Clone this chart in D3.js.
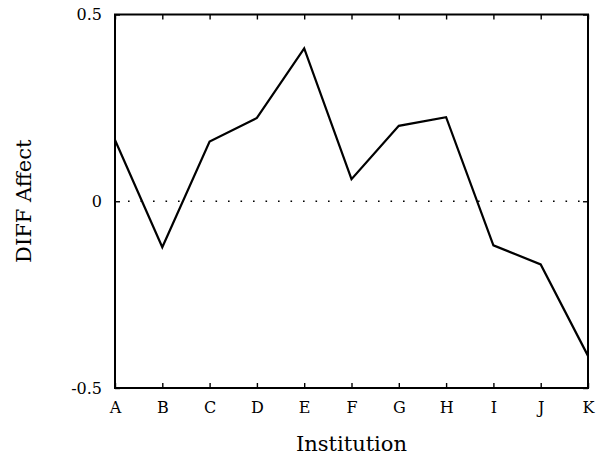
<!DOCTYPE html>
<html>
<head>
<meta charset="utf-8">
<script src="https://cdn.jsdelivr.net/npm/d3@7"></script>
<style>
  body { margin: 0; background: #fff; }
</style>
</head>
<body>
<div id="chart"></div>
<script>
const institutions = ["A", "B", "C", "D", "E", "F", "G", "H", "I", "J", "K"];
const diffAffect = [0.164, -0.123, 0.16, 0.223, 0.409, 0.059, 0.202, 0.225, -0.118, -0.169, -0.414];
const yTicks = [-0.5, 0, 0.5];
const yTickLabels = ["-0.5", "0", "0.5"];

const width = 598, height = 461;
const margin = { top: 14.5, right: 10, bottom: 73, left: 115 };
const innerWidth = width - margin.left - margin.right;
const innerHeight = height - margin.top - margin.bottom;
const serif = "DejaVu Serif";

const svg = d3.select("#chart")
  .append("svg")
    .attr("width", width)
    .attr("height", height);

const innerChart = svg.append("g")
  .attr("transform", `translate(${margin.left}, ${margin.top})`);

// scales
const xScale = d3.scalePoint()
  .domain(institutions)
  .range([0, innerWidth]);

const yScale = d3.scaleLinear()
  .domain([-0.5, 0.5])
  .range([innerHeight, 0]);

// dotted zero line
innerChart.append("line")
  .attr("x1", 13)
  .attr("x2", innerWidth - 4)
  .attr("y1", yScale(0))
  .attr("y2", yScale(0))
  .attr("stroke", "#000")
  .attr("stroke-width", 1.6)
  .attr("stroke-dasharray", "1.6 10.9");

// axes (ticks pointing inward)
const bottomAxis = d3.axisBottom(xScale).tickSizeInner(-5).tickSizeOuter(0).tickPadding(14);
const topAxis = d3.axisTop(xScale).tickSizeInner(-5).tickSizeOuter(0);
const leftAxis = d3.axisLeft(yScale).tickValues(yTicks).tickSizeInner(-5).tickSizeOuter(0)
  .tickPadding(13).tickFormat((d, i) => yTickLabels[i]);
const rightAxis = d3.axisRight(yScale).tickValues(yTicks).tickSizeInner(-5).tickSizeOuter(0);

const styleAxis = g => {
  g.attr("font-family", serif).attr("font-size", 16);
  g.select(".domain").remove();
  g.selectAll(".tick line").attr("stroke", "#000").attr("stroke-width", 1.4);
  g.selectAll(".tick text").attr("fill", "#000");
};

innerChart.append("g").attr("transform", `translate(0, ${innerHeight})`).call(bottomAxis).call(styleAxis);
innerChart.append("g").call(topAxis).call(styleAxis).selectAll(".tick text").remove();
innerChart.append("g").call(leftAxis).call(styleAxis);
innerChart.append("g").attr("transform", `translate(${innerWidth}, 0)`).call(rightAxis).call(styleAxis)
  .selectAll(".tick text").remove();

// frame
innerChart.append("rect")
  .attr("width", innerWidth)
  .attr("height", innerHeight)
  .attr("fill", "none")
  .attr("stroke", "#000")
  .attr("stroke-width", 2);

// line
const lineGenerator = d3.line()
  .x((d, i) => xScale(institutions[i]))
  .y(d => yScale(d));

innerChart.append("path")
  .datum(diffAffect)
  .attr("d", lineGenerator)
  .attr("fill", "none")
  .attr("stroke", "#000")
  .attr("stroke-width", 2.2)
  .attr("stroke-linejoin", "miter");

// axis labels
svg.append("text")
  .attr("x", margin.left + innerWidth / 2)
  .attr("y", 451)
  .attr("text-anchor", "middle")
  .attr("font-family", serif)
  .attr("font-size", 21)
  .text("Institution");

svg.append("text")
  .attr("transform", `translate(31, ${margin.top + innerHeight / 2}) rotate(-90)`)
  .attr("text-anchor", "middle")
  .attr("font-family", serif)
  .attr("font-size", 21)
  .text("DIFF Affect");
</script>
</body>
</html>
